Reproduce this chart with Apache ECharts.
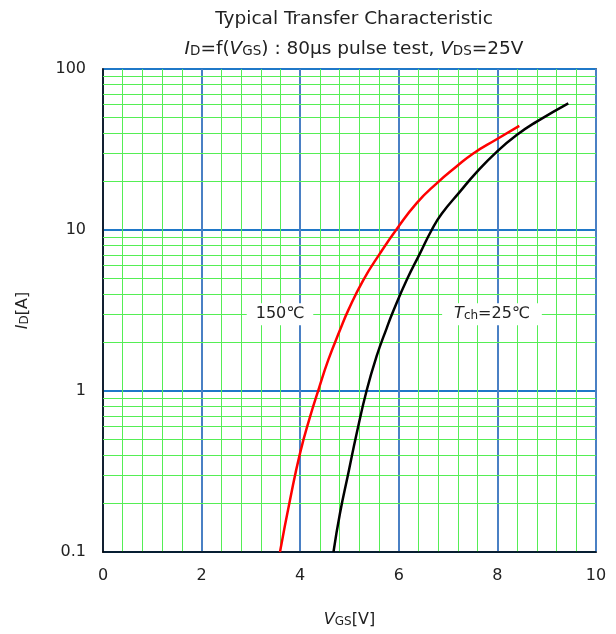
<!DOCTYPE html>
<html><head><meta charset="utf-8">
<script src="https://cdn.jsdelivr.net/npm/echarts@6/dist/echarts.min.js"></script>
<style>html,body{margin:0;padding:0;background:#fff}#c{width:616px;height:634px}</style>
</head><body><div id="c"></div>
<script>
// Data
const redV   = [3.59, 3.793, 3.996, 4.199, 4.367, 4.570, 4.807, 4.976, 5.280, 5.619, 5.970, 6.363, 6.769, 7.17, 7.511, 7.986, 8.444];
const redI   = [0.1, 0.21, 0.41, 0.69, 1.01, 1.56, 2.39, 3.18, 4.89, 7.16, 10.25, 14.7, 19.5, 24.8, 29.9, 36.6, 44.3];
const blackV = [4.675, 4.807, 4.976, 5.146, 5.349, 5.552, 5.755, 5.888, 6.160, 6.430, 6.667, 6.870, 7.241, 7.58, 7.986, 8.391, 8.797, 9.438];
const blackI = [0.1, 0.174, 0.308, 0.546, 1.01, 1.65, 2.46, 3.14, 4.89, 7.16, 10.0, 12.6, 17.3, 22.9, 30.6, 38.9, 47.1, 61.2];
const yMinorLines = [0.2,0.3,0.4,0.5,0.6,0.7,0.8,0.9,2,3,4,5,6,7,8,9,20,30,40,50,60,70,80,90];
const labels = [{text:'150℃', v:3.59, i:3.0, pad:[3,9,3,9]}, {text:'{it|T}{sub|ch}=25℃', v:7.89, i:3.0, pad:[3,12,3,12]}];

const FONT = 'DejaVu Sans';
const chart = echarts.init(document.getElementById('c'));
const pair = (xs, ys) => xs.map((x, k) => [x, ys[k]]);
const richSmall = (fs, sfs) => ({it: {fontStyle: 'italic', fontSize: fs, fontFamily: FONT, color: '#222'},
             sub: {fontSize: sfs, fontFamily: FONT, color: '#222', padding:[4,0,0,0]}});

chart.setOption({
  animation: false,
  textStyle: {fontFamily: FONT},
  title: {
    text: 'Typical Transfer Characteristic',
    subtext: '{it|I}{sub|D}=f({it|V}{sub|GS}) : 80μs pulse test, {it|V}{sub|DS}=25V',
    left: 349, textAlign: 'center', top: 5, itemGap: 11,
    textStyle: {fontFamily: FONT, fontSize: 18.5, fontWeight: 'normal', color: '#222'},
    subtextStyle: {fontFamily: FONT, fontSize: 18.5, color: '#222', rich: richSmall(18.5, 13.5)}
  },
  grid: {left: 103, top: 69, width: 493, height: 483, show: true, borderColor: '#000', borderWidth: 1.5, backgroundColor: '#fff'},
  xAxis: {
    type: 'value', min: 0, max: 10, interval: 2,
    name: '{it|V}{sub|GS}[V]', nameLocation: 'middle', nameGap: 60,
    nameTextStyle: {fontSize: 16, color: '#222', fontFamily: FONT, rich: richSmall(16, 12)},
    axisLine: {show: true, lineStyle: {color: '#000', width: 1.5}},
    axisTick: {show: false},
    axisLabel: {fontSize: 16, color: '#222', margin: 16, fontFamily: FONT},
    splitLine: {show: true, lineStyle: {color: '#4a80c4', width: 2}},
    minorTick: {show: false, splitNumber: 5},
    minorSplitLine: {show: true, lineStyle: {color: '#55ee55', width: 1}}
  },
  yAxis: {
    type: 'log', logBase: 10, min: 0.1, max: 100,
    name: '{it|I}{sub|D}[A]', nameLocation: 'middle', nameGap: 72, nameRotate: 90,
    nameTextStyle: {fontSize: 16, color: '#222', fontFamily: FONT, rich: richSmall(16, 12)},
    axisLine: {show: true, lineStyle: {color: '#000', width: 1.5}},
    axisTick: {show: false},
    minorTick: {show: false},
    axisLabel: {fontSize: 16, color: '#222', margin: 17, fontFamily: FONT,
      formatter: v => String(v)},
    splitLine: {show: true, lineStyle: {color: '#1f78c8', width: 2}}
  },
  series: [
    {
      type: 'line', data: [], silent: true,
      markLine: {silent: true, symbol: 'none', label: {show: false}, animation: false,
        lineStyle: {color: '#55ee55', width: 1, type: 'solid'},
        data: yMinorLines.map(v => ({yAxis: v}))},
      z: 1
    },
    {
      type: 'line', data: pair(redV, redI), smooth: 0.5, showSymbol: false,
      lineStyle: {color: '#ff0000', width: 2.5}, z: 5
    },
    {
      type: 'line', data: pair(blackV, blackI), smooth: 0.5, showSymbol: false,
      lineStyle: {color: '#000000', width: 2.5}, z: 5,
      markPoint: {
        symbol: 'rect', symbolSize: 0, silent: true,
        label: {show: true, position: 'inside', color: '#222', fontSize: 16, fontFamily: FONT,
          backgroundColor: '#fff', formatter: p => p.name, rich: richSmall(16, 12)},
        data: labels.map(l => ({name: l.text, coord: [l.v, l.i], label: {padding: l.pad}}))
      }
    }
  ]
});
</script></body></html>
